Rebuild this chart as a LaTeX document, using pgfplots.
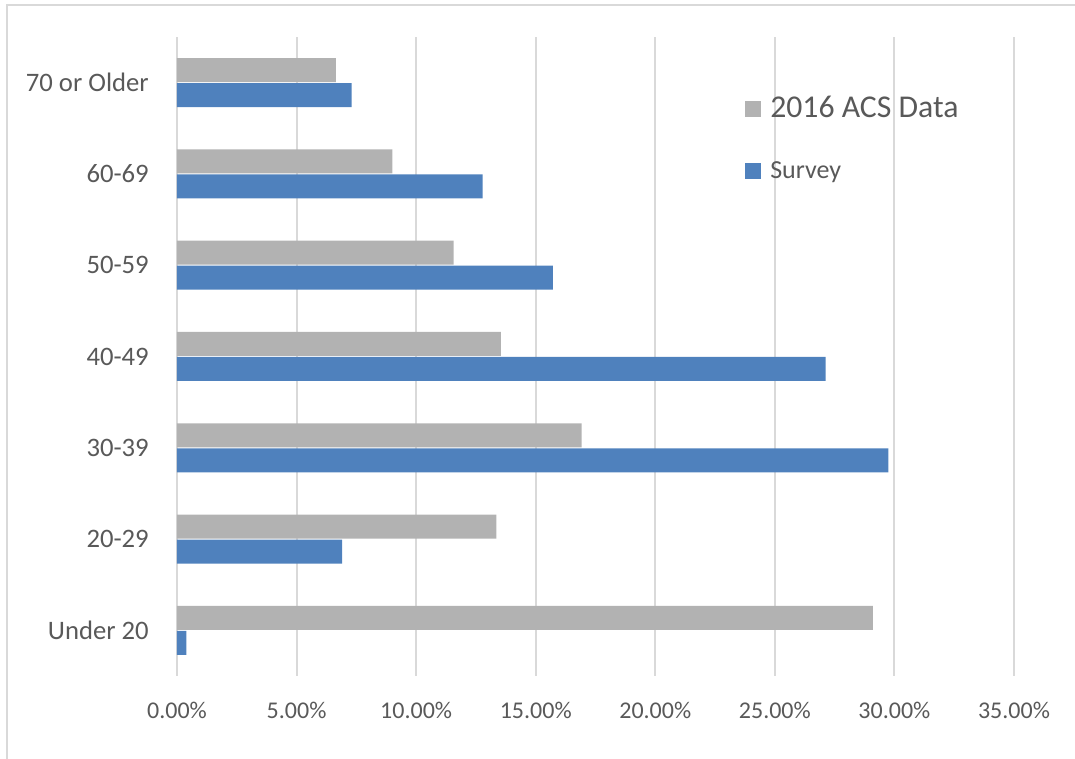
\documentclass[border=0pt]{standalone}
\usepackage{pgfplots}
\pgfplotsset{compat=1.18}
\usepackage{fontspec}
\setmainfont{Carlito}
\definecolor{acs}{HTML}{B2B2B2}
\definecolor{srv}{HTML}{4F81BD}
\definecolor{grd}{HTML}{D9D9D9}
\definecolor{txt}{HTML}{595959}
\begin{document}
\begin{tikzpicture}[x=1pt,y=1pt]
\useasboundingbox (0,0) rectangle (806.25,569.25);
\draw[grd, line width=1.5pt] (5.25,-2) -- (5.25,565.5) -- (808,565.5);
\begin{axis}[
  at={(132.75pt,62.25pt)}, anchor=south west,
  scale only axis, width=627.75pt, height=479.25pt,
  xbar=0.75pt, bar width=18pt,
  xmin=0, xmax=35, ymin=-0.5, ymax=6.5,
  xtick={0,5,...,35},
  xticklabel={\pgfmathprintnumber[fixed,fixed zerofill,precision=2]{\tick}\%},
  ytick={0,...,6},
  yticklabels={Under 20,20-29,30-39,40-49,50-59,60-69,70 or Older},
  major tick length=0pt,
  xmajorgrids, major grid style={grd, line width=1.5pt},
  axis lines*=left,
  x axis line style={draw=none},
  y axis line style={grd, line width=1.5pt, -},
  /pgf/number format/assume math mode=true,
  tick label style={text=txt},
  xticklabel style={font=\fontsize{18}{18}\selectfont, anchor=center, yshift=-26pt},
  yticklabel style={font=\fontsize{20}{20}\selectfont, anchor=east, inner sep=0pt, xshift=-21pt},
  legend style={at={(axis description cs:0.6786,0.900)}, anchor=north west,
    draw=none, fill=none, inner sep=0pt, row sep=34pt, column sep=6.75pt,
    nodes={inner sep=0pt, text=txt, text height=12pt, text depth=0pt}},
  legend cell align=left, reverse legend,
  legend image code/.code={\fill[#1] (0pt,-6pt) rectangle (12pt,6pt);},
]
\addplot[fill=srv, draw=none] coordinates {
  (0.39,0) (6.90,1) (29.75,2) (27.12,3) (15.72,4) (12.78,5) (7.30,6)};
\addlegendentry{\fontsize{19.5}{19.5}\selectfont Survey}
\addplot[fill=acs, draw=none] coordinates {
  (29.10,0) (13.35,1) (16.92,2) (13.54,3) (11.57,4) (9.01,5) (6.64,6)};
\addlegendentry{\fontsize{23.8}{23.8}\selectfont 2016 ACS Data}
\end{axis}
\end{tikzpicture}
\end{document}
